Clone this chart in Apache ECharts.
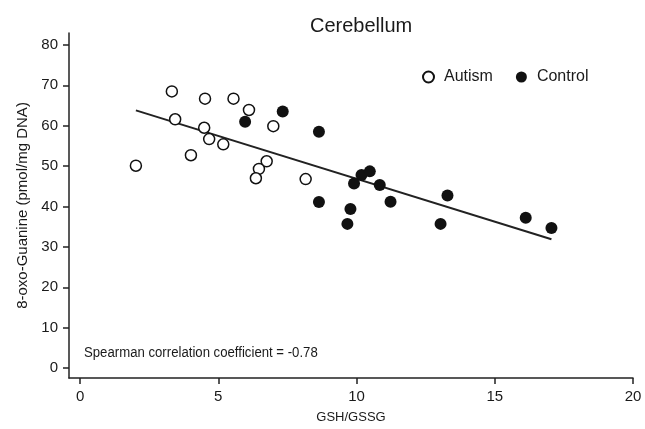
<!DOCTYPE html>
<html>
<head>
<meta charset="utf-8">
<script src="https://cdn.jsdelivr.net/npm/echarts@6/dist/echarts.min.js"></script>
<style>
html,body{margin:0;padding:0;background:#fff;}
#chart{width:645px;height:429px;}
</style>
</head>
<body>
<div id="chart"></div>
<script>
var titleText = 'Cerebellum';
var xAxisName = 'GSH/GSSG';
var yAxisName = '8-oxo-Guanine (pmol/mg DNA)';
var annotation = 'Spearman correlation coefficient = -0.78';
var xTicks = [0, 5, 10, 15, 20];
var yTicks = [0, 10, 20, 30, 40, 50, 60, 70, 80];

var autismX = [2.02, 3.32, 3.44, 4.01, 4.52, 4.49, 4.67, 5.18, 5.55, 6.11, 6.99, 6.75, 6.47, 6.36, 8.16];
var autismY = [50.1, 68.5, 61.6, 52.7, 66.7, 59.5, 56.7, 55.4, 66.7, 63.9, 59.9, 51.2, 49.3, 47.0, 46.8];

var controlX = [5.97, 7.33, 8.64, 8.64, 9.91, 10.18, 10.48, 10.84, 11.23, 9.78, 9.67, 13.29, 13.04, 16.12, 17.05];
var controlY = [61.0, 63.5, 58.5, 41.1, 45.7, 47.8, 48.7, 45.3, 41.2, 39.4, 35.7, 42.7, 35.7, 37.2, 34.7];

var fitX = [2.02, 17.05];
var fitY = [63.8, 31.9];

function pairs(xs, ys) { return xs.map(function (x, i) { return [x, ys[i]]; }); }

var FONT = "'Liberation Sans', Arial, Helvetica, sans-serif";
var TXT = '#1a1a1a';

var chart = echarts.init(document.getElementById('chart'), null, {renderer: 'canvas'});
chart.setOption({
  backgroundColor: '#ffffff',
  animation: false,
  title: {
    text: titleText,
    left: 305, top: 11,
    textStyle: {fontFamily: FONT, fontSize: 20, fontWeight: 'normal', color: TXT}
  },
  legend: {
    data: ['Autism', 'Control'],
    left: 417, top: 64,
    itemWidth: 11, itemHeight: 11, itemGap: 23,
    icon: 'circle',
    textStyle: {fontFamily: FONT, fontSize: 16, color: TXT, padding: [0, 0, 0, 5]}
  },
  grid: {left: 69, right: 12, top: 33, bottom: 49},
  xAxis: {
    type: 'value', min: -0.4, max: 20,
    name: xAxisName, nameLocation: 'middle', nameGap: 33,
    nameTextStyle: {fontFamily: FONT, fontSize: 13, color: TXT},
    axisLine: {show: true, onZero: false, lineStyle: {color: '#222', width: 1.5}},
    axisTick: {show: true, length: 6, lineStyle: {color: '#222', width: 1.5}, customValues: xTicks},
    axisLabel: {fontFamily: FONT, fontSize: 15, color: TXT, margin: 11, customValues: xTicks},
    splitLine: {show: false}
  },
  yAxis: {
    type: 'value', min: -2.46, max: 82.96,
    name: yAxisName, nameLocation: 'middle', nameGap: 37,
    nameTextStyle: {fontFamily: FONT, fontSize: 15, color: TXT},
    axisLine: {show: true, onZero: false, lineStyle: {color: '#222', width: 1.5}},
    axisTick: {show: true, length: 6, lineStyle: {color: '#222', width: 1.5}, customValues: yTicks},
    axisLabel: {fontFamily: FONT, fontSize: 15, color: TXT, margin: 11, customValues: yTicks},
    splitLine: {show: false}
  },
  graphic: [{
    type: 'text', left: 84, top: 345, scaleX: 0.85,
    style: {text: annotation, font: "15.5px 'Liberation Sans', Arial, sans-serif", fill: TXT}
  }],
  series: [
    {
      name: 'fit', type: 'line', data: pairs(fitX, fitY),
      symbol: 'none', silent: true,
      lineStyle: {color: '#222', width: 2}, z: 1
    },
    {
      name: 'Autism', type: 'scatter', data: pairs(autismX, autismY),
      symbol: 'circle', symbolSize: 11,
      itemStyle: {color: '#ffffff', borderColor: '#111', borderWidth: 1.5, opacity: 1}, z: 3
    },
    {
      name: 'Control', type: 'scatter', data: pairs(controlX, controlY),
      symbol: 'circle', symbolSize: 12,
      itemStyle: {color: '#111', borderColor: '#111', borderWidth: 0, opacity: 1}, z: 3
    }
  ]
});
</script>
</body>
</html>
